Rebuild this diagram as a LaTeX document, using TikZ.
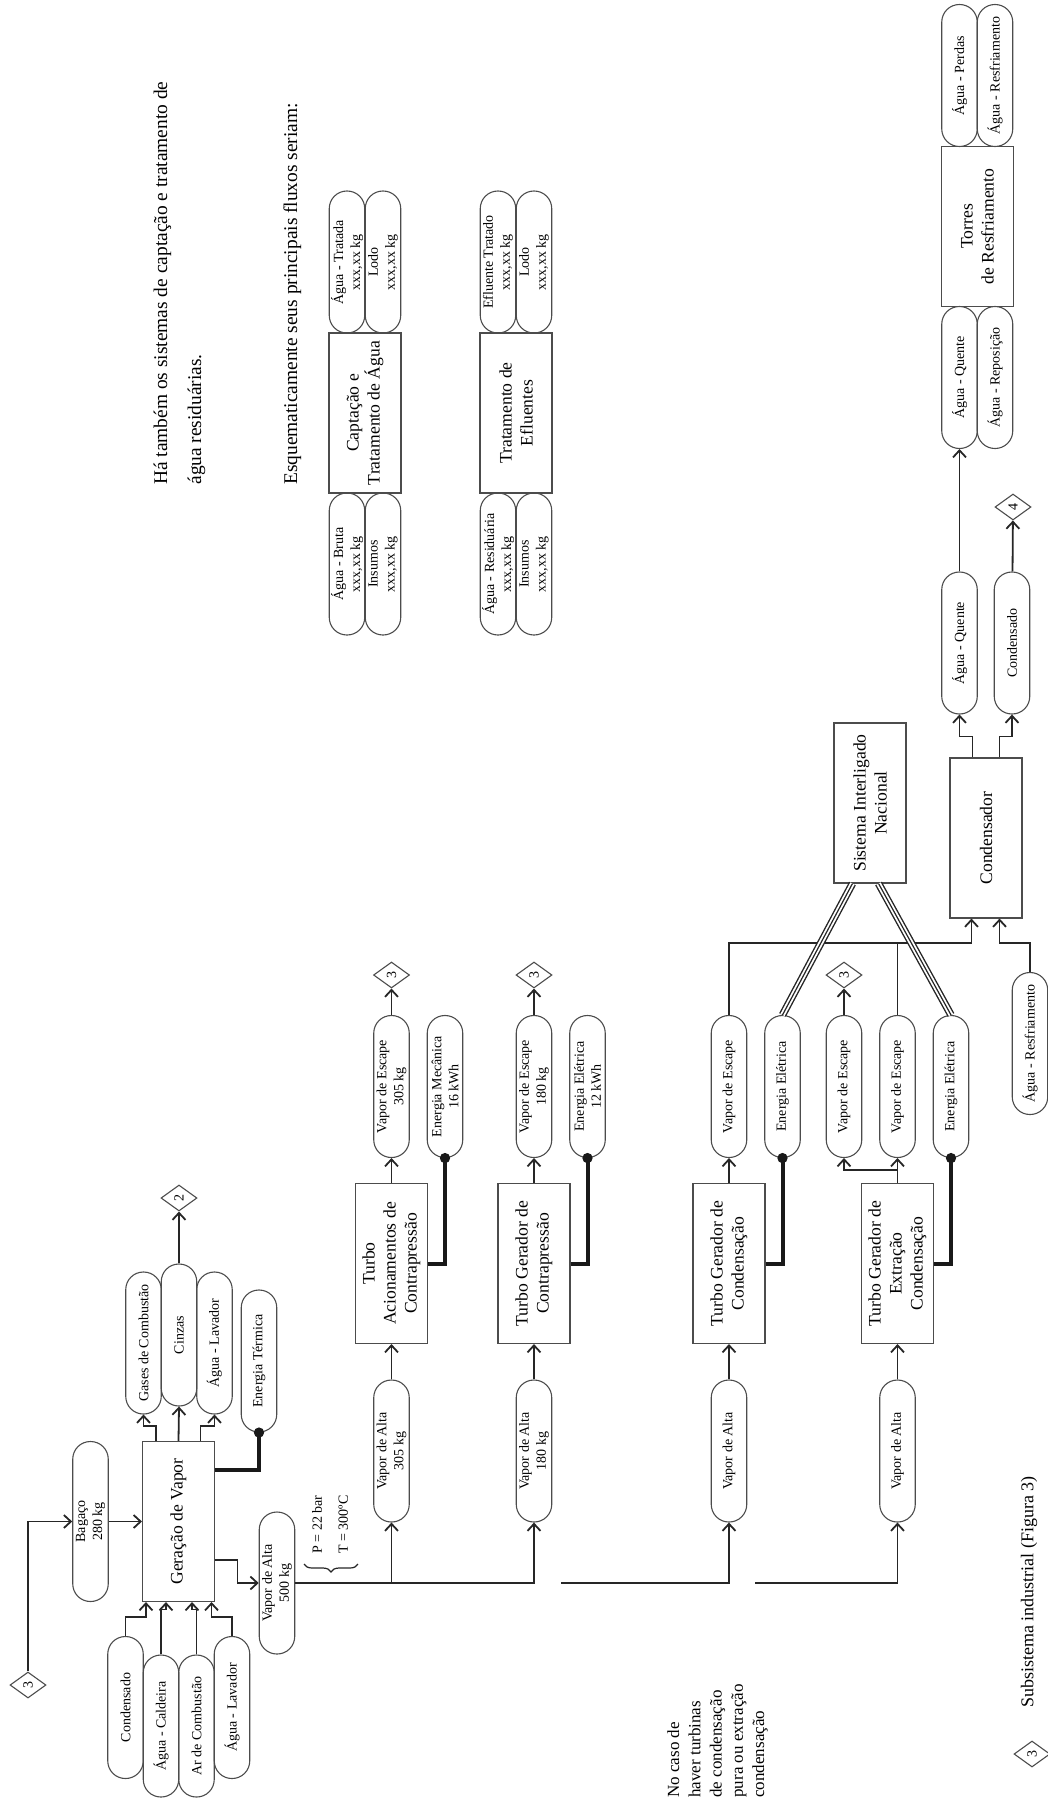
\documentclass[tikz,border=0pt]{standalone}
\usepackage{fontspec}
\setmainfont{Liberation Serif}
\usetikzlibrary{calc,arrows.meta,shapes.geometric,decorations.pathreplacing}
\tikzset{
	caixa/.style={rotate=90, draw=black!70, line width=0.55pt, minimum width=80pt, minimum height=36pt, inner sep=1pt, align=center, font=\fontsize{8.8}{10.5}\selectfont},
	fluxo/.style={rotate=90, draw=black!70, line width=0.55pt, rounded corners=8.8pt, minimum width=71pt, minimum height=17.75pt, inner sep=0.5pt, align=center, font=\fontsize{7}{8.5}\selectfont},
	conector/.style={rotate=90, draw=black!70, line width=0.55pt, diamond, minimum width=13pt, minimum height=18pt, inner sep=0pt, font=\fontsize{7}{8}\selectfont},
	seta/.style={draw=black!85, line width=0.9pt, -{Straight Barb[length=3.5pt,width=6.5pt]}},
	linha/.style={draw=black!85, line width=0.9pt},
	energia/.style={draw=black!90, line width=2pt, -{Circle[length=5pt]}, shorten >=-2.5pt},
	rede/.style={draw=black!85, line width=3.8pt, postaction={draw=white, line width=2.4pt}, postaction={draw=black!85, line width=0.6pt}},
	texto/.style={rotate=90, inner sep=0pt, align=left},
}
\begin{document}
\begin{tikzpicture}[x=0.5pt, y=-0.5pt]
	\useasboundingbox (0,0) rectangle (1048,1810);

	\node[caixa] (gv) at (178.5,1521.5) {Geração de Vapor};
	\node[fluxo, minimum width=80pt] (bag) at (90.5,1521.5) {Bagaço\\280 kg};
	\node[conector] (d3a) at (28,1685) {3};
	\node[fluxo] (cond) at (125.5,1707.5) {Condensado};
	\node[fluxo] (cald) at (161,1726) {Água - Caldeira};
	\node[fluxo] (ar) at (196.5,1726) {Ar de Combustão};
	\node[fluxo] (lav) at (232,1707.5) {Água - Lavador};
	\node[fluxo] (gases) at (143.5,1343) {Gases de Combustão};
	\node[fluxo] (cinzas) at (179,1335) {Cinzas};
	\node[fluxo] (lavout) at (214.5,1343) {Água - Lavador};
	\node[fluxo] (et) at (259,1361) {Energia Térmica};
	\node[conector] (d2) at (179,1198) {2};
	\node[fluxo] (va500) at (277,1583) {Vapor de Alta\\500 kg};
	\node[texto, anchor=west, font=\fontsize{7}{13}\selectfont] (pt) at (330,1554) {P = 22 bar\\T = 300ºC};

	\node[fluxo] (va305) at (391.5,1451) {Vapor de Alta\\305 kg};
	\node[caixa] (tac) at (391.5,1263.5) {Turbo\\Acionamentos de\\Contrapressão};
	\node[fluxo] (ve305) at (391.5,1086.5) {Vapor de Escape\\305 kg};
	\node[fluxo] (em) at (445,1086.5) {Energia Mecânica\\16 kWh};
	\node[conector] (d3b) at (391.5,975) {3};

	\node[fluxo] (va180) at (534,1451) {Vapor de Alta\\180 kg};
	\node[caixa] (tgc) at (534,1263.5) {Turbo Gerador de\\Contrapressão};
	\node[fluxo] (ve180) at (534,1086.5) {Vapor de Escape\\180 kg};
	\node[fluxo] (ee12) at (587.5,1086.5) {Energia Elétrica\\12 kWh};
	\node[conector] (d3c) at (534,975) {3};

	\node[fluxo] (vacond) at (729,1451) {Vapor de Alta};
	\node[caixa] (tgcond) at (729,1263.5) {Turbo Gerador de\\Condensação};
	\node[fluxo] (vecond) at (729,1086.5) {Vapor de Escape};
	\node[fluxo] (eecond) at (782.5,1086.5) {Energia Elétrica};

	\node[fluxo] (vaext) at (897.5,1451) {Vapor de Alta};
	\node[caixa] (tgec) at (897.5,1263.5) {Turbo Gerador de\\Extração\\Condensação};
	\node[fluxo] (veextra) at (844,1086.5) {Vapor de Escape};
	\node[conector] (d3d) at (844,975) {3};
	\node[fluxo] (vetgec) at (897.5,1086.5) {Vapor de Escape};
	\node[fluxo] (eetgec) at (951,1086.5) {Energia Elétrica};

	\node[caixa] (sin) at (870,803) {Sistema Interligado\\Nacional};
	\node[caixa] (cdr) at (986,838) {Condensador};
	\node[fluxo] (arin) at (1030,1043.5) {Água - Resfriamento};
	\node[fluxo] (aq1) at (959.5,643) {Água - Quente};
	\node[fluxo] (cd2) at (1012,643) {Condensado};
	\node[conector] (d4) at (1013,507) {4};

	\node[caixa] (torres) at (977.5,226.5) {Torres\\de Resfriamento};
	\node[fluxo] (aq2) at (959.5,377.5) {Água - Quente};
	\node[fluxo] (arep) at (995,377.5) {Água - Reposição};
	\node[fluxo] (aperd) at (959.5,75.5) {Água - Perdas};
	\node[fluxo] (ares) at (995,75.5) {Água - Resfriamento};

	\node[caixa] (cap) at (365,413) {Captação e\\Tratamento de Água};
	\node[fluxo] (bruta) at (347,564) {Água - Bruta\\xxx,xx kg};
	\node[fluxo] (ins1) at (383,564) {Insumos\\xxx,xx kg};
	\node[fluxo] (trat) at (347,262) {Água - Tratada\\xxx,xx kg};
	\node[fluxo] (lodo1) at (383,262) {Lodo\\xxx,xx kg};
	\node[caixa] (efl) at (516,413) {Tratamento de\\Efluentes};
	\node[fluxo] (resid) at (498,564) {Água - Residuária\\xxx,xx kg};
	\node[fluxo] (ins2) at (534,564) {Insumos\\xxx,xx kg};
	\node[fluxo] (eftrat) at (498,262) {Efluente Tratado\\xxx,xx kg};
	\node[fluxo] (lodo2) at (534,262) {Lodo\\xxx,xx kg};

	\node[texto, anchor=base west, font=\fontsize{9.7}{12}\selectfont] (intro1) at (167,485) {Há também os sistemas de captação e tratamento de};
	\node[texto, anchor=base west, font=\fontsize{9.7}{12}\selectfont] (intro2) at (201,485) {água residuárias.};
	\node[texto, anchor=base west, font=\fontsize{9.7}{12}\selectfont] (intro3) at (297,485) {Esquematicamente seus principais fluxos seriam:};
	\node[texto, anchor=north west, font=\fontsize{8.5}{10.6}\selectfont] (nota) at (667,1798) {No caso de\\haver turbinas\\de condensação\\pura ou extração\\condensação};
	\node[conector] (leg) at (1032,1754) {3};
	\node[texto, anchor=west, font=\fontsize{9}{11}\selectfont] (legtxt) at (1029,1708) {Subsistema industrial (Figura 3)};

	\draw[seta] (d3a.east) |- (bag.north);
	\draw[seta] (bag) -- (gv);
	\draw[seta] (cond.east) -- ++(0,-19) -| ($(gv.north west)+(4,0)$);
	\draw[seta] (cald.east) -- ++(0,-45) -| ($(gv.north west)+(24,0)$);
	\draw[seta] (ar.east) -- ++(0,-45) -| ($(gv.south west)+(-23,0)$);
	\draw[seta] (lav.east) -- ++(0,-19) -| ($(gv.south west)+(-3.5,0)$);
	\draw[seta] ($(gv.north east)+(14,0)$) -- ++(0,-15) -| (gases.west);
	\draw[seta] (gv.east) -- (cinzas.west);
	\draw[seta] ($(gv.south east)+(-14.5,0)$) -- ++(0,-15) -| (lavout.west);
	\draw[seta] (cinzas) -- (d2);
	\draw[energia] ($(gv.south)+(0,-51.5)$) -| (et.west);
	\draw[seta] ($(gv.south)+(0,38.5)$) -- ++(22.5,0) |- (va500.north);
	\draw[draw=black!85, line width=0.6pt, decorate, decoration={brace, amplitude=4pt}] (358,1564) -- (304,1564);

	\draw[seta] (va500.south) -| (va180.west);
	\draw[seta] (va500.south -| va305.west) -- (va305.west);
	\coordinate (bus2) at (561,1583);
	\coordinate (bus3) at (755,1583);
	\draw[seta] (bus2) -| (vacond.west);
	\draw[seta] (bus3) -| (vaext.west);

	\draw[seta] (va305) -- (tac);
	\draw[seta] (tac) -- (ve305);
	\draw[seta] (ve305) -- (d3b);
	\draw[energia] (tac.south) -| (em.west);
	\draw[seta] (va180) -- (tgc);
	\draw[seta] (tgc) -- (ve180);
	\draw[seta] (ve180) -- (d3c);
	\draw[energia] (tgc.south) -| (ee12.west);
	\draw[seta] (vacond) -- (tgcond);
	\draw[seta] (tgcond) -- (vecond);
	\draw[energia] (tgcond.south) -| (eecond.west);
	\draw[seta] (vaext) -- (tgec);
	\draw[seta] (tgec) -- (vetgec);
	\draw[seta] ($(tgec.east)+(0,-13)$) -| (veextra.west);
	\draw[seta] (veextra) -- (d3d);
	\draw[energia] (tgec.south) -| (eetgec.west);

	\draw[seta] (vecond.east) -- ++(0,-72) -| ($(cdr.north west)+(22,0)$);
	\draw[linha] (vetgec.east) -- ++(0,-72);
	\draw[seta] (arin.east) -- ++(0,-29) -| ($(cdr.south west)+(-23,0)$);
	\draw[rede] (eecond.east) -- ($(sin.north west)+(19,0)$);
	\draw[rede] (eetgec.east) -- ($(sin.south west)+(-28,0)$);
	\draw[seta] ($(cdr.north east)+(23,0)$) -- ++(0,-21) -| (aq1.west);
	\draw[seta] ($(cdr.south east)+(-23,0)$) -- ++(0,-21) -| (cd2.west);
	\draw[seta] (aq1) -- (aq2);
	\draw[seta] (cd2) -- (d4);
\end{tikzpicture}
\end{document}
